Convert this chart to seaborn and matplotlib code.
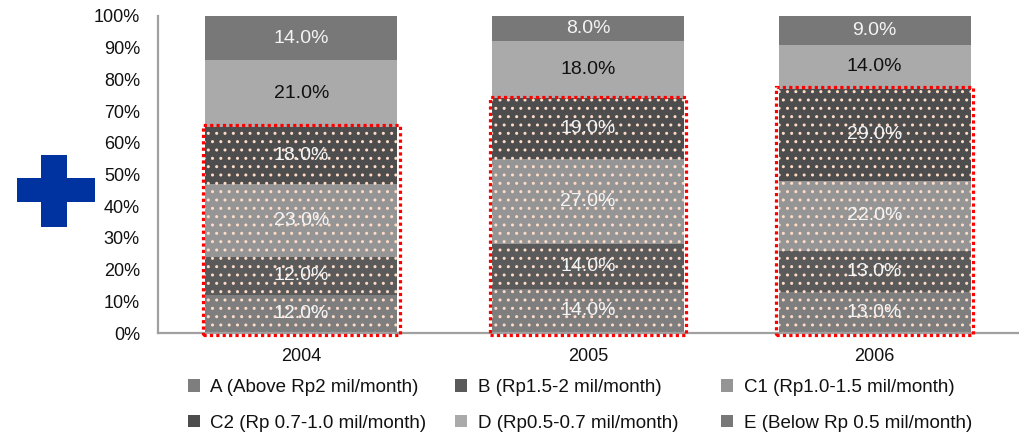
import matplotlib
matplotlib.use("Agg")
import matplotlib.pyplot as plt
from matplotlib.patches import Patch, Rectangle
import numpy as np
import pandas as pd
import seaborn as sns

# Consumer income-class shares by year (stacked bottom to top A -> E)
years = ["2004", "2005", "2006"]
series_names = [
    "A (Above Rp2 mil/month)",
    "B (Rp1.5-2 mil/month)",
    "C1 (Rp1.0-1.5 mil/month)",
    "C2 (Rp 0.7-1.0 mil/month)",
    "D (Rp0.5-0.7 mil/month)",
    "E (Below Rp 0.5 mil/month)",
]
share_a = [12.0, 14.0, 13.0]
share_b = [12.0, 14.0, 13.0]
share_c1 = [23.0, 27.0, 22.0]
share_c2 = [18.0, 19.0, 29.0]
share_d = [21.0, 18.0, 14.0]
share_e = [14.0, 8.0, 9.0]
y_ticks = [0, 10, 20, 30, 40, 50, 60, 70, 80, 90, 100]

shares = [share_a, share_b, share_c1, share_c2, share_d, share_e]
colors = ["#7e7e7e", "#5a5a5a", "#959595", "#4d4d4d", "#aaaaaa", "#787878"]
dotted = [True, True, True, True, False, False]
label_colors = ["#f4f4f4", "#f4f4f4", "#f4f4f4", "#f4f4f4", "#111111", "#f4f4f4"]
dot_color = "#ffdcc8"

sns.set_theme(style="white")
plt.rcParams["font.family"] = ["Liberation Sans", "DejaVu Sans"]
plt.rcParams["hatch.linewidth"] = 1.0

fig = plt.figure(figsize=(10.19, 4.33), dpi=100)
ax = fig.add_axes([158 / 1019, 100 / 433, 860 / 1019, 317 / 433])

bar_w = 0.67
bottoms = np.zeros(len(years))
for name, vals, col, dots, lcol in zip(series_names, shares, colors, dotted, label_colors):
    vals = np.array(vals)
    df = pd.DataFrame({"year": years, "share": vals})
    before = len(ax.patches)
    sns.barplot(data=df, x="year", y="share", bottom=bottoms, color=col,
                saturation=1, width=bar_w, ax=ax, linewidth=0,
                edgecolor=dot_color if dots else col,
                hatch=".." if dots else None)
    for p in ax.patches[before:]:
        p.set_linewidth(0)
    for i, (b, v) in enumerate(zip(bottoms, vals)):
        ax.text(i, b + v / 2, f"{v:.1f}%", ha="center", va="center",
                fontsize=14, color=lcol)
    bottoms = bottoms + vals

# Red dotted outline around the A–C2 block of each bar
upper = np.array(share_a) + np.array(share_b) + np.array(share_c1) + np.array(share_c2)
pad_x = 0.008
for i, top in enumerate(upper):
    ax.add_patch(Rectangle((i - bar_w / 2 - pad_x, -0.6), bar_w + 2 * pad_x, top + 1.2,
                           fill=False, edgecolor="#ff0000", linewidth=2.3,
                           linestyle=(0, (1, 1)), clip_on=False, zorder=5))

ax.set_xlim(-0.5, 2.5)
ax.set_ylim(0, 100)
ax.set_yticks(y_ticks)
ax.set_yticklabels([f"{t}%" for t in y_ticks])
ax.set_xlabel("")
ax.set_ylabel("")
ax.tick_params(axis="y", length=0, pad=13, labelsize=13, colors="#111111")
ax.tick_params(axis="x", length=0, pad=11, labelsize=13, colors="#111111")
for side in ["top", "right"]:
    ax.spines[side].set_visible(False)
for side in ["left", "bottom"]:
    ax.spines[side].set_color("#a0a0a0")
    ax.spines[side].set_linewidth(1.6)

# Legend: three columns of two entries each
handles = [Patch(facecolor=c, edgecolor="none") for c in colors]
columns = [(0, 3), (1, 4), (2, 5)]
column_x = [188, 455, 721]
for (k1, k2), cx in zip(columns, column_x):
    fig.legend([handles[k1], handles[k2]], [series_names[k1], series_names[k2]],
               loc="upper left", bbox_to_anchor=(cx / 1019, 1 - 379 / 433),
               frameon=False, fontsize=13.5, handlelength=0.65, handleheight=0.65,
               handletextpad=0.55, labelspacing=1.0, borderpad=0,
               borderaxespad=0, labelcolor="#111111")

# Blue plus sign at the left
blue = "#0033a0"
fig.patches.append(Rectangle((41 / 1019, 1 - 227 / 433), 26 / 1019, 72 / 433,
                             transform=fig.transFigure, facecolor=blue,
                             edgecolor="none"))
fig.patches.append(Rectangle((17 / 1019, 1 - 202 / 433), 78 / 1019, 24 / 433,
                             transform=fig.transFigure, facecolor=blue,
                             edgecolor="none"))

fig.savefig("out.png", dpi=100)
